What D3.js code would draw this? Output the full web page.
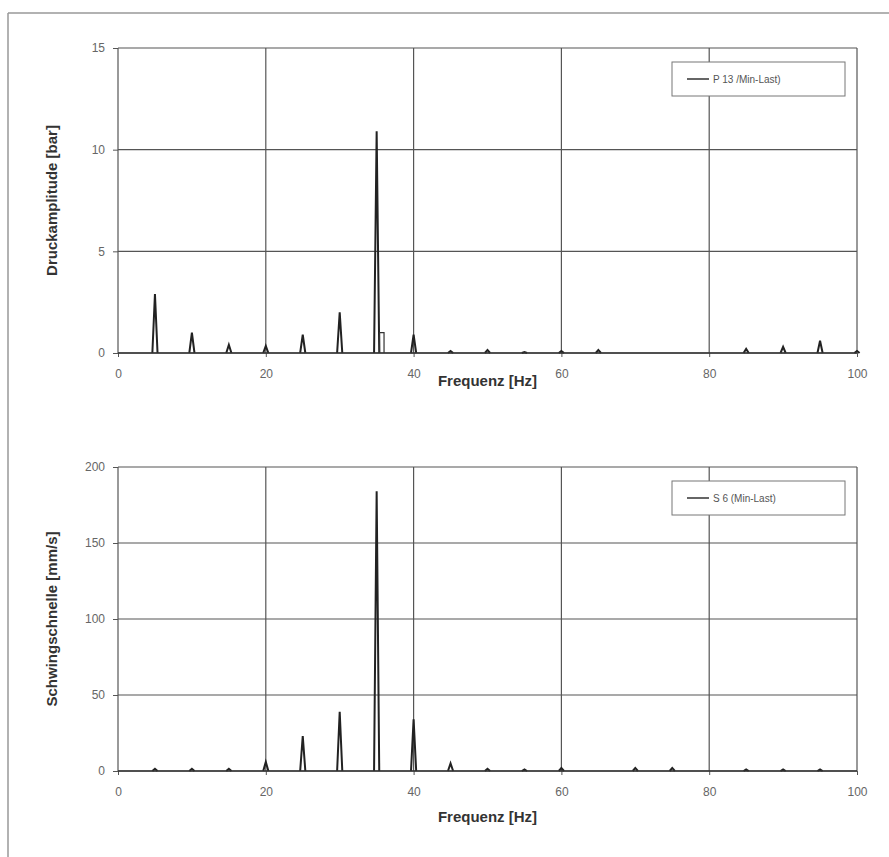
<!DOCTYPE html>
<html>
  <head>
    <meta charset="utf-8" />
    <title>Frequenzspektrum</title>
    <style>
      body { margin: 0; background: #fff; }
      text { font-family: "Liberation Sans", Arial, sans-serif; fill: #333; }
      .tick text { font-size: 12px; fill: #666; }
      .label { font-size: 15px; font-weight: bold; fill: #333; }
      .legend { font-size: 10px; fill: #555; }
    </style>
  </head>
  <body>
    <div id="chart-area"></div>
    <script src="https://d3js.org/d3.v7.min.js"></script>
    <script>
      // peaks of the two spectra (frequency in Hz, amplitude)
      const pressureFreq = [5, 10, 15, 20, 25, 30, 35, 40, 45, 50, 55, 60, 65, 85, 90, 95, 100];
      const pressureAmp = [2.9, 1.0, 0.4, 0.35, 0.9, 2.0, 10.9, 0.9, 0.1, 0.15, 0.05, 0.1, 0.15, 0.2, 0.3, 0.6, 0.1];
      // small rectangular shoulder next to the main pressure peak
      const pressureShoulderFreq = [35.4, 36];
      const pressureShoulderAmp = [1.0, 1.0];

      const velocityFreq = [5, 10, 15, 20, 25, 30, 35, 40, 45, 50, 55, 60, 70, 75, 85, 90, 95];
      const velocityAmp = [1.5, 1.5, 1.5, 6, 23, 39, 184, 34, 5, 1.5, 1, 2, 2, 2, 1, 1, 1];

      const xTicks = [0, 20, 40, 60, 80, 100];
      const pressureTicks = [0, 5, 10, 15];
      const velocityTicks = [0, 50, 100, 150, 200];

      const width = 889;
      const height = 857;

      const svg = d3.select("#chart-area").append("svg")
        .attr("width", width)
        .attr("height", height);

      // scanned page frame
      svg.append("line")
        .attr("x1", 8).attr("x2", 889).attr("y1", 13).attr("y2", 13)
        .attr("stroke", "#999").attr("stroke-width", 1.5);
      svg.append("line")
        .attr("x1", 8).attr("x2", 8).attr("y1", 13).attr("y2", 857)
        .attr("stroke", "#999").attr("stroke-width", 1.5);

      function drawPanel(opts) {
        const x = d3.scaleLinear().domain([0, 100]).range([118, 857]);
        const y = d3.scaleLinear().domain([0, opts.yMax]).range([opts.bottom, opts.top]);

        const g = svg.append("g");

        // grid
        g.append("g")
          .selectAll("line")
          .data(opts.yTicks)
          .join("line")
          .attr("x1", x(0)).attr("x2", x(100))
          .attr("y1", d => y(d)).attr("y2", d => y(d))
          .attr("stroke", "#555").attr("stroke-width", 1.2);
        g.append("g")
          .selectAll("line")
          .data(xTicks)
          .join("line")
          .attr("x1", d => x(d)).attr("x2", d => x(d))
          .attr("y1", y(0)).attr("y2", y(opts.yMax))
          .attr("stroke", "#555").attr("stroke-width", 1.2);

        // axes
        g.append("g")
          .attr("transform", `translate(0, ${y(0)})`)
          .call(d3.axisBottom(x).tickValues(xTicks).tickSize(4).tickPadding(12))
          .call(a => a.select(".domain").remove())
          .call(a => a.selectAll("line").attr("stroke", "#555"));
        g.append("g")
          .attr("transform", `translate(${x(0)}, 0)`)
          .call(d3.axisLeft(y).tickValues(opts.yTicks).tickSize(5).tickPadding(8))
          .call(a => a.select(".domain").remove())
          .call(a => a.selectAll("line").attr("stroke", "#555"));

        // spectrum peaks
        const line = d3.line().x(d => x(d[0])).y(d => y(d[1]));
        const hw = 0.35;
        const peaks = opts.freq.map((f, i) => [[f - hw, 0], [f, opts.amp[i]], [f + hw, 0]]);
        g.append("g")
          .selectAll("path")
          .data(peaks)
          .join("path")
          .attr("d", line)
          .attr("fill", "none")
          .attr("stroke", "#222")
          .attr("stroke-width", 2);

        // baseline of the spectrum
        g.append("line")
          .attr("x1", x(0)).attr("x2", x(100))
          .attr("y1", y(0)).attr("y2", y(0))
          .attr("stroke", "#333").attr("stroke-width", 1.5);

        if (opts.shoulderFreq) {
          const sf = opts.shoulderFreq, sa = opts.shoulderAmp;
          g.append("path")
            .attr("d", line([[sf[0], 0], [sf[0], sa[0]], [sf[1], sa[1]], [sf[1], 0]]))
            .attr("fill", "none").attr("stroke", "#333").attr("stroke-width", 1.2);
        }

        // labels
        svg.append("text")
          .attr("class", "label")
          .attr("x", (x(0) + x(100)) / 2)
          .attr("y", opts.bottom + opts.labelOffset)
          .attr("text-anchor", "middle")
          .text("Frequenz [Hz]");
        svg.append("text")
          .attr("class", "label")
          .attr("transform", `translate(57, ${(opts.top + opts.bottom) / 2}) rotate(-90)`)
          .attr("text-anchor", "middle")
          .text(opts.yLabel);

        // legend
        const lg = svg.append("g").attr("transform", `translate(672, ${opts.top + 14})`);
        lg.append("rect")
          .attr("width", 173).attr("height", 34)
          .attr("fill", "#fff").attr("stroke", "#777").attr("stroke-width", 1);
        lg.append("line")
          .attr("x1", 15).attr("x2", 37).attr("y1", 17).attr("y2", 17)
          .attr("stroke", "#333").attr("stroke-width", 1.5);
        lg.append("text")
          .attr("class", "legend")
          .attr("x", 41).attr("y", 21)
          .text(opts.legend);
      }

      drawPanel({
        top: 48, bottom: 353, yMax: 15, yTicks: pressureTicks,
        freq: pressureFreq, amp: pressureAmp,
        shoulderFreq: pressureShoulderFreq, shoulderAmp: pressureShoulderAmp,
        yLabel: "Druckamplitude [bar]", legend: "P 13 /Min-Last)", labelOffset: 33
      });

      drawPanel({
        top: 467, bottom: 771, yMax: 200, yTicks: velocityTicks,
        freq: velocityFreq, amp: velocityAmp,
        yLabel: "Schwingschnelle [mm/s]", legend: "S 6 (Min-Last)", labelOffset: 51
      });
    </script>
  </body>
</html>
